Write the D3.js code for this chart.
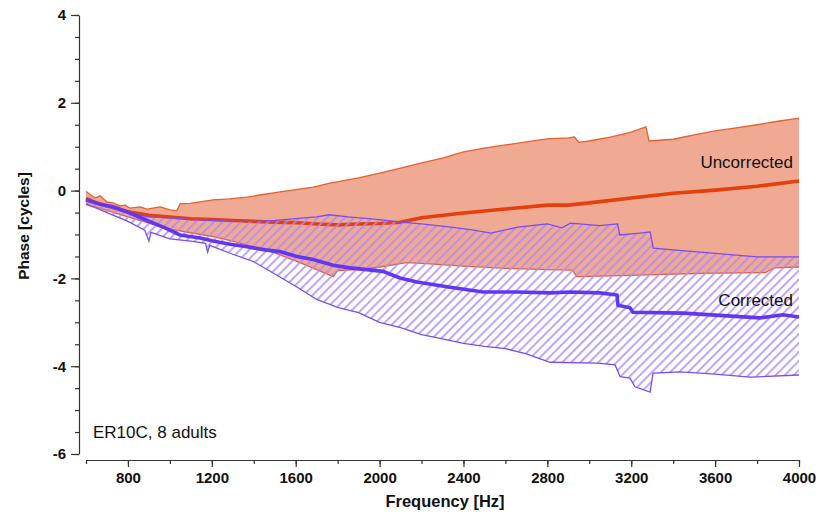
<!DOCTYPE html>
<meta charset="utf-8">
<style>
body { margin: 0; background: #fff; }
.axis path, .axis line { stroke: #333; stroke-width: 1.2; }
.axis text { font: bold 15px "Liberation Sans", Arial, sans-serif; fill: #111; }
.lab { font-family: "Liberation Sans", Arial, sans-serif; fill: #111; }
</style>
<svg class="chart"></svg>
<script src="https://d3js.org/d3.v7.min.js"></script>
<script>

// uncorrected: upper edge, mean, lower edge
var uncUpperF = [600, 643, 667, 700, 729, 762, 786, 810, 858, 891, 953, 1001, 1034, 1048, 1096, 1206, 1287, 1368, 1430, 1525, 1683, 1764, 1900, 2000, 2100, 2200, 2300, 2400, 2500, 2600, 2700, 2800, 2900, 2930, 2950, 3000, 3100, 3200, 3270, 3285, 3400, 3500, 3600, 3700, 3800, 3900, 4000];
var uncUpperV = [-0.02, -0.17, -0.12, -0.26, -0.28, -0.35, -0.33, -0.40, -0.37, -0.42, -0.37, -0.44, -0.46, -0.30, -0.29, -0.21, -0.19, -0.15, -0.10, -0.03, 0.08, 0.17, 0.29, 0.40, 0.51, 0.63, 0.74, 0.88, 0.97, 1.04, 1.11, 1.18, 1.20, 1.22, 1.10, 1.13, 1.22, 1.33, 1.45, 1.13, 1.17, 1.27, 1.36, 1.43, 1.50, 1.58, 1.65];

var uncMeanF = [600, 650, 700, 800, 900, 1000, 1100, 1200, 1300, 1400, 1500, 1600, 1700, 1800, 1900, 2000, 2100, 2200, 2400, 2600, 2800, 2900, 3000, 3200, 3400, 3600, 3800, 4000];
var uncMeanV = [-0.18, -0.28, -0.35, -0.48, -0.56, -0.60, -0.64, -0.66, -0.68, -0.70, -0.72, -0.73, -0.76, -0.78, -0.76, -0.75, -0.72, -0.62, -0.51, -0.42, -0.33, -0.33, -0.28, -0.17, -0.06, 0.01, 0.10, 0.22];

var uncLowerF = [600, 700, 800, 900, 1000, 1100, 1200, 1300, 1400, 1500, 1600, 1700, 1780, 1800, 1900, 2000, 2130, 2200, 2400, 2600, 2800, 2920, 2940, 3200, 3400, 3600, 3840, 3880, 4000];
var uncLowerV = [-0.32, -0.45, -0.60, -0.74, -0.88, -0.96, -1.04, -1.15, -1.28, -1.42, -1.60, -1.80, -1.96, -1.82, -1.80, -1.74, -1.64, -1.66, -1.72, -1.77, -1.80, -1.81, -1.96, -1.93, -1.90, -1.88, -1.87, -1.76, -1.74];

// corrected: upper edge, mean, lower edge
var corUpperF = [600, 650, 700, 800, 900, 1000, 1100, 1200, 1300, 1400, 1500, 1600, 1700, 1760, 1850, 2000, 2100, 2200, 2340, 2450, 2530, 2660, 2800, 2870, 2910, 3050, 3135, 3145, 3240, 3290, 3305, 3400, 3530, 3700, 3800, 4000];
var corUpperV = [-0.20, -0.30, -0.36, -0.50, -0.60, -0.62, -0.66, -0.68, -0.70, -0.70, -0.68, -0.64, -0.60, -0.55, -0.60, -0.66, -0.72, -0.76, -0.83, -0.90, -0.97, -0.83, -0.76, -0.85, -0.74, -0.80, -0.76, -1.01, -0.97, -0.94, -1.31, -1.35, -1.40, -1.47, -1.51, -1.51];

var corMeanF = [600, 667, 729, 810, 905, 977, 1048, 1144, 1206, 1287, 1368, 1454, 1525, 1606, 1683, 1778, 1859, 1940, 2016, 2097, 2178, 2336, 2493, 2655, 2813, 2908, 3051, 3132, 3137, 3194, 3208, 3447, 3814, 3924, 4000];
var corMeanV = [-0.21, -0.31, -0.37, -0.51, -0.71, -0.85, -1.01, -1.08, -1.15, -1.22, -1.28, -1.35, -1.39, -1.50, -1.57, -1.70, -1.76, -1.80, -1.84, -1.99, -2.08, -2.20, -2.31, -2.31, -2.33, -2.31, -2.33, -2.38, -2.61, -2.67, -2.77, -2.79, -2.90, -2.83, -2.88];

var corLowerF = [600, 700, 800, 880, 900, 910, 1000, 1100, 1170, 1180, 1190, 1300, 1400, 1500, 1600, 1700, 1800, 1900, 2000, 2100, 2200, 2300, 2400, 2500, 2600, 2700, 2813, 3042, 3123, 3147, 3194, 3218, 3290, 3304, 3433, 3600, 3766, 4000];
var corLowerV = [-0.30, -0.50, -0.70, -0.90, -1.15, -0.95, -1.10, -1.15, -1.20, -1.40, -1.25, -1.45, -1.62, -1.90, -2.18, -2.48, -2.66, -2.78, -3.00, -3.12, -3.28, -3.38, -3.48, -3.55, -3.60, -3.72, -3.91, -3.93, -3.97, -4.24, -4.27, -4.47, -4.59, -4.16, -4.13, -4.18, -4.25, -4.20];

var xMajor = [800, 1200, 1600, 2000, 2400, 2800, 3200, 3600, 4000];
var xMinor = d3.range(600, 4001, 200);
var yMajor = [-6, -4, -2, 0, 2, 4];
var yMinor = d3.range(-6, 4.01, 0.5);

var width = 819, height = 515;

var x = d3.scaleLinear().domain([600, 4000]).range([86, 799]);
var y = d3.scaleLinear().domain([-6, 4]).range([454, 15]);

var svg = d3.select(".chart").attr("width", width).attr("height", height);

var defs = svg.append("defs");
var pat = defs.append("pattern")
    .attr("id", "hatch")
    .attr("patternUnits", "userSpaceOnUse")
    .attr("width", 6.4).attr("height", 6.4)
    .attr("patternTransform", "rotate(45)");
pat.append("line")
    .attr("x1", 1).attr("y1", 0).attr("x2", 1).attr("y2", 6.4)
    .attr("stroke", "rgba(172,138,250,0.78)")
    .attr("stroke-width", 2);

function pts(f, v) { return f.map(function(d, i) { return [d, v[i]]; }); }

var line = d3.line().x(function(d) { return x(d[0]); }).y(function(d) { return y(d[1]); });

function band(fu, vu, fl, vl) {
  return line(pts(fu, vu).concat(pts(fl, vl).reverse())) + "Z";
}

// uncorrected band
svg.append("path")
    .attr("d", band(uncUpperF, uncUpperV, uncLowerF, uncLowerV))
    .attr("fill", "#f0a993");

svg.append("path").attr("d", line(pts(uncUpperF, uncUpperV)))
    .attr("fill", "none").attr("stroke", "#e8602e").attr("stroke-width", 1.3);
svg.append("path").attr("d", line(pts(uncLowerF, uncLowerV)))
    .attr("fill", "none").attr("stroke", "#e8602e").attr("stroke-width", 1.3);
svg.append("path").attr("d", line(pts(uncMeanF, uncMeanV)))
    .attr("fill", "none").attr("stroke", "#e5400c").attr("stroke-width", 3.6);

// corrected band (hatched, drawn over the uncorrected lines)
svg.append("path")
    .attr("d", band(corUpperF, corUpperV, corLowerF, corLowerV))
    .attr("fill", "url(#hatch)");

svg.append("path").attr("d", line(pts(corUpperF, corUpperV)))
    .attr("fill", "none").attr("stroke", "#7a4cf2").attr("stroke-width", 1.3);
svg.append("path").attr("d", line(pts(corLowerF, corLowerV)))
    .attr("fill", "none").attr("stroke", "#7a4cf2").attr("stroke-width", 1.3);
svg.append("path").attr("d", line(pts(corMeanF, corMeanV)))
    .attr("fill", "none").attr("stroke", "#6236f5").attr("stroke-width", 3.6);

// axes
svg.append("g").attr("class", "axis")
    .attr("transform", "translate(79,0)")
    .call(d3.axisLeft(y).tickValues(yMinor).tickSize(4).tickFormat(""))
    .select(".domain").remove();
svg.append("g").attr("class", "axis")
    .attr("transform", "translate(79,0)")
    .call(d3.axisLeft(y).tickValues(yMajor).tickSize(8).tickSizeOuter(0).tickPadding(5)
      .tickFormat(function(d) { return String(d); }));

svg.append("g").attr("class", "axis")
    .attr("transform", "translate(0,460)")
    .call(d3.axisBottom(x).tickValues(xMinor).tickSize(4).tickFormat(""))
    .select(".domain").remove();
svg.append("g").attr("class", "axis")
    .attr("transform", "translate(0,460)")
    .call(d3.axisBottom(x).tickValues(xMajor).tickSize(7).tickSizeOuter(0).tickPadding(5)
      .tickFormat(function(d) { return String(d); }));

// axis titles
svg.append("text").attr("class", "lab")
    .attr("x", 445).attr("y", 507)
    .attr("text-anchor", "middle")
    .style("font-size", "16.5px").style("font-weight", "bold")
    .text("Frequency [Hz]");
svg.append("text").attr("class", "lab")
    .attr("transform", "translate(29,226) rotate(-90)")
    .attr("text-anchor", "middle")
    .style("font-size", "15.5px").style("font-weight", "bold")
    .text("Phase [cycles]");

// annotations
svg.append("text").attr("class", "lab")
    .attr("x", 93).attr("y", 438)
    .style("font-size", "17px")
    .text("ER10C, 8 adults");
svg.append("text").attr("class", "lab")
    .attr("x", 793).attr("y", 168)
    .attr("text-anchor", "end")
    .style("font-size", "17px")
    .text("Uncorrected");
svg.append("text").attr("class", "lab")
    .attr("x", 793).attr("y", 306)
    .attr("text-anchor", "end")
    .style("font-size", "17px")
    .text("Corrected");

</script>
